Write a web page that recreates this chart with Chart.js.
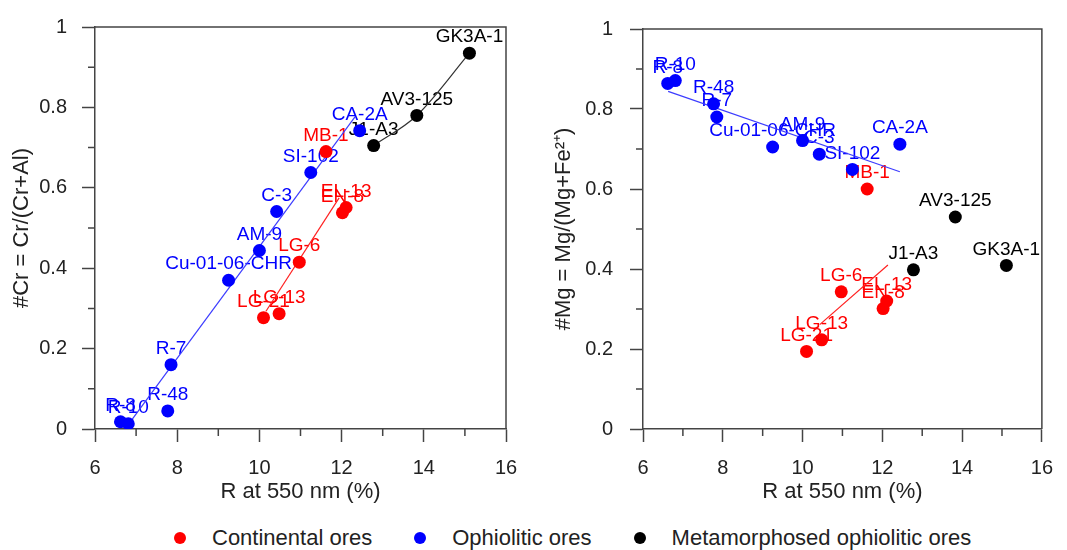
<!DOCTYPE html>
<html>
<head>
<meta charset="utf-8">
<script src="https://cdn.jsdelivr.net/npm/chart.js@4.4.1/dist/chart.umd.min.js"></script>
<style>
body { margin: 0; background: #fff; width: 1067px; height: 550px; overflow: hidden; font-family: "Liberation Sans", Arial, sans-serif; }
#left { position: absolute; left: 0; top: 0; }
#right { position: absolute; left: 533px; top: 0; }
#legend { position: absolute; left: 174px; top: 525px; display: flex; align-items: center; font-size: 22px; line-height: 26px; color: #222; }
#legend .dot { display: inline-block; width: 12px; height: 12px; border-radius: 6px; margin-right: 26px; }
#legend .item { display: flex; align-items: center; margin-right: 42px; }
</style>
</head>
<body>
<canvas id="left" width="533" height="510"></canvas>
<canvas id="right" width="534" height="510"></canvas>
<div id="legend">
  <div class="item"><span class="dot" style="background:#ff0000"></span>Continental ores</div>
  <div class="item"><span class="dot" style="background:#0000ff"></span>Ophiolitic ores</div>
  <div class="item"><span class="dot" style="background:#000"></span>Metamorphosed ophiolitic ores</div>
</div>
<script>
// samples, reflectance R at 550 nm (%), #Cr and #Mg
var continentalNames = ['MB-1', 'EL-13', 'EN-8', 'LG-6', 'LG-13', 'LG-21'];
var continentalR = [11.62, 12.11, 12.02, 10.97, 10.48, 10.10];
var continentalCr = [0.690, 0.551, 0.538, 0.415, 0.287, 0.277];
var continentalMg = [0.600, 0.320, 0.301, 0.343, 0.223, 0.194];

var ophioliticNames = ['CA-2A', 'SI-102', 'C-3', 'AM-9', 'Cu-01-06-CHR', 'R-7', 'R-48', 'R-8', 'R-10'];
var ophioliticR = [12.44, 11.25, 10.42, 10.00, 9.25, 7.85, 7.77, 6.62, 6.81];
var ophioliticCr = [0.742, 0.638, 0.541, 0.444, 0.370, 0.160, 0.045, 0.018, 0.013];
var ophioliticMg = [0.712, 0.649, 0.687, 0.721, 0.705, 0.780, 0.813, 0.864, 0.871];

var metamorphicNames = ['J1-A3', 'AV3-125', 'GK3A-1'];
var metamorphicR = [12.78, 13.83, 15.11];
var metamorphicCr = [0.705, 0.780, 0.935];
var metamorphicMg = [0.398, 0.530, 0.409];

// trend line end points
var crOphTrendR = [6.89, 12.33];
var crOphTrendY = [0.022, 0.777];
var crContTrendR = [10.16, 11.94];
var crContTrendY = [0.293, 0.575];
var mgOphTrendR = [6.63, 12.44];
var mgOphTrendY = [0.844, 0.643];
var mgContTrendR = [10.43, 12.14];
var mgContTrendY = [0.261, 0.410];

var rTicks = [6, 8, 10, 12, 14, 16];
var fractionTicks = [0, 0.2, 0.4, 0.6, 0.8, 1];
var fractionLabels = ['0', '0.2', '0.4', '0.6', '0.8', '1'];

var FONT = '"Liberation Sans", Arial, sans-serif';
var AXIS = '#444';

function pts(xs, ys) {
    return xs.map(function(x, i) { return {x: x, y: ys[i]}; });
}

function pointSet(names, xs, ys, color) {
    return {
        data: pts(xs, ys),
        names: names,
        backgroundColor: color,
        borderWidth: 0,
        pointRadius: 6.5,
        pointHoverRadius: 6.5
    };
}

function lineSet(xs, ys, color, tension) {
    return {
        data: pts(xs, ys),
        showLine: true,
        borderColor: color,
        borderWidth: 1.2,
        pointRadius: 0,
        tension: tension || 0,
        cubicInterpolationMode: tension ? 'monotone' : 'default'
    };
}

var extras = {
    id: 'extras',
    beforeDatasetsDraw: function(chart) {
        var ctx = chart.ctx;
        ctx.save();
        ctx.font = '19px ' + FONT;
        ctx.textAlign = 'center';
        ctx.textBaseline = 'middle';
        chart.data.datasets.forEach(function(ds, i) {
            if (!ds.names) return;
            var meta = chart.getDatasetMeta(i);
            ctx.fillStyle = ds.backgroundColor;
            meta.data.forEach(function(el, j) {
                ctx.fillText(ds.names[j], el.x, el.y - 16);
            });
        });
        ctx.restore();
    },
    afterDraw: function(chart) {
        var ctx = chart.ctx;
        var a = chart.chartArea;
        var sx = chart.scales.x;
        var sy = chart.scales.y;
        ctx.save();
        ctx.strokeStyle = AXIS;
        ctx.lineWidth = 1.5;
        ctx.beginPath();
        ctx.moveTo(a.left, a.top);
        ctx.lineTo(a.right, a.top);
        ctx.lineTo(a.right, a.bottom);
        for (var i = 0; i < sx.ticks.length - 1; i++) {
            var px = sx.getPixelForValue((sx.ticks[i].value + sx.ticks[i + 1].value) / 2);
            ctx.moveTo(px, a.bottom);
            ctx.lineTo(px, a.bottom + 7);
        }
        for (var k = 0; k < sy.ticks.length - 1; k++) {
            var py = sy.getPixelForValue((sy.ticks[k].value + sy.ticks[k + 1].value) / 2);
            ctx.moveTo(a.left, py);
            ctx.lineTo(a.left - 7, py);
        }
        ctx.stroke();
        ctx.restore();
    }
};

function makeChart(id, datasets, yTitle, yWidth, titlePad, labelPad, padRight) {
    return new Chart(document.getElementById(id), {
        type: 'scatter',
        data: {datasets: datasets},
        plugins: [extras],
        options: {
            responsive: false,
            animation: false,
            layout: {padding: {left: 0, top: 16, right: padRight, bottom: 0}},
            plugins: {legend: {display: false}, tooltip: {enabled: false}},
            scales: {
                x: {
                    min: 6, max: 16,
                    afterBuildTicks: function(s) { s.ticks = rTicks.map(function(v) { return {value: v}; }); },
                    afterFit: function(s) { s.height = 81; },
                    border: {color: AXIS, width: 1.5},
                    grid: {drawOnChartArea: false, tickLength: 13, tickColor: AXIS, tickWidth: 1.5},
                    ticks: {padding: 14, color: '#222', font: {family: FONT, size: 20}, maxRotation: 0,
                        callback: function(v, i) { return String(rTicks[i]); }},
                    title: {display: true, text: 'R at 550 nm (%)', color: '#222', font: {family: FONT, size: 22}, padding: {top: 0, bottom: 5}}
                },
                y: {
                    min: 0, max: 1,
                    afterBuildTicks: function(s) { s.ticks = fractionTicks.map(function(v) { return {value: v}; }); },
                    afterFit: function(s) { s.width = yWidth; },
                    border: {color: AXIS, width: 1.5},
                    grid: {drawOnChartArea: false, tickLength: 13, tickColor: AXIS, tickWidth: 1.5},
                    ticks: {padding: labelPad, color: '#222', font: {family: FONT, size: 20},
                        callback: function(v, i) { return fractionLabels[i]; }},
                    title: {display: true, text: yTitle, color: '#222', font: {family: FONT, size: 22}, padding: {top: titlePad, bottom: 0}}
                }
            }
        }
    });
}

makeChart('left', [
    pointSet(continentalNames, continentalR, continentalCr, '#ff0000'),
    pointSet(ophioliticNames, ophioliticR, ophioliticCr, '#0000ff'),
    pointSet(metamorphicNames, metamorphicR, metamorphicCr, '#000000'),
    lineSet(crOphTrendR, crOphTrendY, '#3c3cff'),
    lineSet(crContTrendR, crContTrendY, '#ff2020'),
    lineSet(metamorphicR, metamorphicCr, '#333333', 0.4)
], '#Cr = Cr/(Cr+Al)', 95, 9, 15, 27);

makeChart('right', [
    pointSet(continentalNames, continentalR, continentalMg, '#ff0000'),
    pointSet(ophioliticNames, ophioliticR, ophioliticMg, '#0000ff'),
    pointSet(metamorphicNames, metamorphicR, metamorphicMg, '#000000'),
    lineSet(mgOphTrendR, mgOphTrendY, '#3c3cff'),
    lineSet(mgContTrendR, mgContTrendY, '#ff2020')
], '#Mg = Mg/(Mg+Fe\u00b2\u207a)', 110, 18, 17, 14);
</script>
</body>
</html>
